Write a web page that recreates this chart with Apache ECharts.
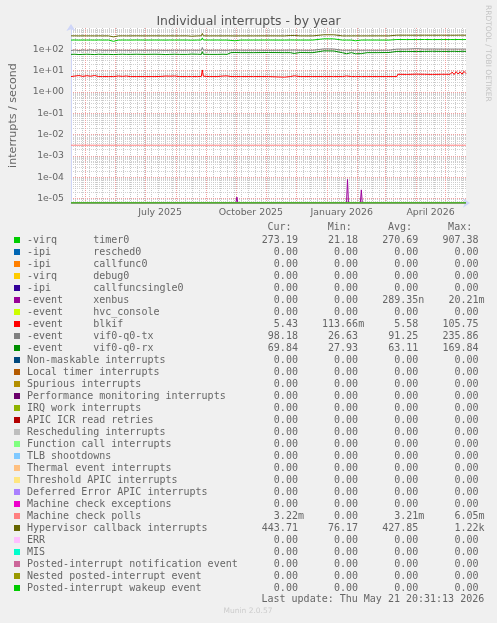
<!DOCTYPE html>
<html><head><meta charset="utf-8">
<script src="https://cdn.jsdelivr.net/npm/echarts@6/dist/echarts.min.js"></script>
<style>html,body{margin:0;padding:0;background:#F0F0F0}#c{width:497px;height:623px}</style>
</head><body><div id="c"></div>
<script>
// ---------------- data ----------------
const TITLE = 'Individual interrupts - by year';
const Y_NAME = 'interrupts / second';
const END_TIME = Date.UTC(2026, 4, 21, 20, 31, 13);
const SPAN_DAYS = 400;
const Y_MIN = 6.31e-6;
const Y_MAX = 1000;
const Y_TICKS = [1e-5, 1e-4, 1e-3, 1e-2, 1e-1, 1e0, 1e1, 1e2];
const X_LABELS = ['July 2025', 'October 2025', 'January 2026', 'April 2026'];
const X_LABEL_DATES = ['2025-07-16', '2025-10-16', '2026-01-16', '2026-04-16'];
const MONTH_STARTS = ['2025-05-01','2025-06-01','2025-07-01','2025-08-01','2025-09-01','2025-10-01','2025-11-01','2025-12-01','2026-01-01','2026-02-01','2026-03-01','2026-04-01','2026-05-01'];

const LABELS = ['-virq timer0','-ipi resched0','-ipi callfunc0','-virq debug0','-ipi callfuncsingle0','-event xenbus','-event hvc_console','-event blkif','-event vif0-q0-tx','-event vif0-q0-rx','Non-maskable interrupts','Local timer interrupts','Spurious interrupts','Performance monitoring interrupts','IRQ work interrupts','APIC ICR read retries','Rescheduling interrupts','Function call interrupts','TLB shootdowns','Thermal event interrupts','Threshold APIC interrupts','Deferred Error APIC interrupts','Machine check exceptions','Machine check polls','Hypervisor callback interrupts','ERR','MIS','Posted-interrupt notification event','Nested posted-interrupt event','Posted-interrupt wakeup event'];
const COLORS = ['#00CC00','#0066B3','#FF8000','#FFCC00','#330099','#990099','#CCFF00','#FF0000','#808080','#008F00','#00487D','#B35A00','#B38F00','#6B006B','#8FB300','#B30000','#BEBEBE','#80FF80','#80C9FF','#FFC080','#FFE680','#AA80FF','#EE00CC','#FF8080','#666600','#FFBFFF','#00FFCC','#CC6699','#999900','#00CC00'];
const CUR = ['273.19','0.00','0.00','0.00','0.00','0.00','0.00','5.43','98.18','69.84','0.00','0.00','0.00','0.00','0.00','0.00','0.00','0.00','0.00','0.00','0.00','0.00','0.00','3.22m','443.71','0.00','0.00','0.00','0.00','0.00'];
const MIN = ['21.18','0.00','0.00','0.00','0.00','0.00','0.00','113.66m','26.63','27.93','0.00','0.00','0.00','0.00','0.00','0.00','0.00','0.00','0.00','0.00','0.00','0.00','0.00','0.00','76.17','0.00','0.00','0.00','0.00','0.00'];
const AVG = ['270.69','0.00','0.00','0.00','0.00','289.35n','0.00','5.58','91.25','63.11','0.00','0.00','0.00','0.00','0.00','0.00','0.00','0.00','0.00','0.00','0.00','0.00','0.00','3.21m','427.85','0.00','0.00','0.00','0.00','0.00'];
const MAX = ['907.38','0.00','0.00','0.00','0.00','20.21m','0.00','105.75','235.86','169.84','0.00','0.00','0.00','0.00','0.00','0.00','0.00','0.00','0.00','0.00','0.00','0.00','0.00','6.05m','1.22k','0.00','0.00','0.00','0.00','0.00'];

// sample days (days after the start of the 400-day window)
const DAYS = [0,4,8,12,16,20,24,28,32, 38,43,48,52,56,60,66, 75,85,92,96,100,105,110, 118,122,128,132,133,134,140, 148,154,158,162,163,166,172, 185,200,216,222,226,232,240, 245,246,256,266,267,275,279, 284,288,294,300,310,322,323, 330,331,340,350,358,366,375, 384,386,388,390,392,394,396,398,400];
const HYPERVISOR = [428,430,426,431,428,429,427,430,428, 429,385,427,430,428,429,431, 428,430,429,427,430,428,429, 430,414,428,430,555,431,428, 429,428,430,428,398,426,429, 428,430,427,445,448,429,428, 429,478,480,479,430,428,429, 428,430,428,429,430,428,458, 460,458,459,457,460,458,459, 458,460,457,459,461,458,460,459,458];
const TIMER0 = [272,274,271,273,272,273,271,274,272, 273,238,271,273,272,272,274, 272,273,272,271,273,272,273, 272,268,272,273,345,274,272, 273,271,272,262,248,252,272, 272,273,271,274,273,272,272, 273,310,311,309,272,271,272, 271,252,272,273,272,271,288, 289,288,287,288,289,287,288, 288,289,287,288,289,288,287,288,288];
const VIF_TX = [88,93,87,94,89,95,88,93,90, 90,89,91,90,90,89,91, 90,91,90,89,90,91,90, 90,91,90,91,122,92,90, 91,90,90,92,91,93,91, 91,90,91,92,93,91,90, 91,104,105,104,91,90,91, 90,91,90,91,90,91,103, 103,104,103,108,103,104,103, 103,104,103,104,103,104,103,104,103];
const VIF_RX = [58,59,57,58,59,58,57,59,58, 58,57,58,59,58,58,59, 58,59,58,57,58,59,58, 58,60,59,58,78,59,58, 58,59,58,70,69,71,70, 70,71,70,70,64,71,70, 70,84,85,84,70,69,62, 70,62,63,70,70,71,80, 80,81,80,79,80,81,80, 80,79,81,80,79,80,81,80,80];
const BLKIF = [5.3,5.6,5.9,5.4,5.8,5.5,5.9,5.3,5.3, 5.3,5.3,5.6,5.4,5.6,5.3,5.3, 5.3,5.3,5.4,5.6,5.5,5.6,5.3, 5.3,5.3,5.3,5.4,10.8,5.5,5.3, 5.3,5.6,5.7,5.3,5.3,5.3,5.3, 5.3,5.3,5.0,5.3,5.7,5.3,5.3, 5.3,5.3,5.3,5.3,5.3,5.3,5.6, 5.3,5.3,5.3,5.3,5.3,5.3,5.3, 5.3,6.8,6.7,6.9,6.8,6.7,6.8, 6.8,8.6,6.6,9.0,7.0,8.8,6.9,9.2,7.4];
const XENBUS_DAYS = [0,167,168,169,279,280,281,293,294,295,400];
const XENBUS = [0,0,1.2e-5,0,0,8e-5,0,0,2.6e-5,0,0];
const MC_POLLS_DAYS = [0,400];
const MC_POLLS = [0.00322,0.00322];
const ZERO_DAYS = [0,400];
const ZERO = [0,0];

// ---------------- build ----------------
const DAY = 86400000;
const START = END_TIME - SPAN_DAYS * DAY;
const ts = s => Date.parse(s + 'T00:00:00Z');

const seriesSource = {
  0: [DAYS, TIMER0], 5: [XENBUS_DAYS, XENBUS], 7: [DAYS, BLKIF], 8: [DAYS, VIF_TX],
  9: [DAYS, VIF_RX], 23: [MC_POLLS_DAYS, MC_POLLS], 24: [DAYS, HYPERVISOR]
};
// rrdtool draws zero values at the bottom edge of a log graph
const clampLog = v => (v > 0 ? v : Y_MIN);

const series = LABELS.map((name, i) => {
  const src = seriesSource[i] || [ZERO_DAYS, ZERO];
  return {
    name, type: 'line', showSymbol: false, symbol: 'none', animation: false,
    xAxisIndex: 0, yAxisIndex: 0,
    color: COLORS[i],
    lineStyle: { width: 1, color: COLORS[i] },
    data: src[0].map((d, k) => [START + d * DAY, clampLog(src[1][k])])
  };
});

function fmtField(s) {
  const last = s.slice(-1);
  if (/[a-zA-Z]/.test(last)) return s.slice(0, -1).padStart(9) + last;
  return s.padStart(9) + ' ';
}
function rowText(i) {
  let lab = LABELS[i];
  if (lab[0] === '-') {
    const sp = lab.indexOf(' ');
    lab = lab.slice(0, sp).padEnd(11) + lab.slice(sp + 1);
  }
  return lab.padEnd(36) + fmtField(CUR[i]) + fmtField(MIN[i]) + fmtField(AVG[i]) + fmtField(MAX[i]);
}

// weekly minor grid (Mondays)
const weeks = [];
{
  let t = Date.UTC(2025, 3, 21); // a Monday
  while (t <= END_TIME) { if (t >= START) weeks.push(t); t += 7 * DAY; }
}
const minorY = [];
for (let e = -6; e <= 2; e++) for (let m = 2; m <= 9; m++) {
  const v = m * Math.pow(10, e);
  if (v > Y_MIN && v < Y_MAX) minorY.push(v);
}

const yLabel = v => {
  const e = Math.round(Math.log10(v));
  return '1e' + (e < 0 ? '-' : '+') + String(Math.abs(e)).padStart(2, '0');
};
const labelTimes = X_LABEL_DATES.map(ts);

const FONT = 'DejaVu Sans';
const MONO = 'DejaVu Sans Mono';
const TXT = '#666666';
const AXIS = '#CFD6F8';

const chart = echarts.init(document.getElementById('c'), null, { renderer: 'canvas' });
chart.setOption({
  backgroundColor: '#F0F0F0',
  animation: false,
  title: {
    text: TITLE, left: 'center', top: 11,
    textStyle: { fontFamily: FONT, fontSize: 12.4, fontWeight: 'normal', color: '#555555' }
  },
  grid: { left: 66, right: 31, top: 28, bottom: 420, show: true, backgroundColor: '#FFFFFF', borderWidth: 0 },
  xAxis: [{
    type: 'value', min: START, max: END_TIME, z: 1,
    axisLine: { show: true, lineStyle: { color: AXIS, width: 1 }, symbol: ['none', 'arrow'], symbolSize: [7, 7], symbolOffset: [0, 4] },
    axisTick: { show: false, customValues: MONTH_STARTS.map(ts) },
    splitLine: { show: true, lineStyle: { color: '#F0A0A0', width: 1, type: [1, 1] } },
    axisLabel: {
      customValues: labelTimes, margin: 5,
      fontFamily: FONT, fontSize: 9.4, color: TXT,
      formatter: v => { let k = 0, best = Infinity; labelTimes.forEach((t, j) => { if (Math.abs(t - v) < best) { best = Math.abs(t - v); k = j; } }); return X_LABELS[k]; }
    }
  }, {
    type: 'value', min: START, max: END_TIME, z: 0,
    axisLine: { show: false }, axisLabel: { show: false },
    axisTick: { show: false, customValues: weeks },
    splitLine: { show: true, lineStyle: { color: '#C8C8C8', width: 1, type: [1, 1] } }
  }],
  yAxis: [{
    type: 'log', logBase: 10, min: Y_MIN, max: Y_MAX, z: 1,
    name: Y_NAME, nameLocation: 'middle', nameGap: 52, nameRotate: 90,
    nameTextStyle: { fontFamily: FONT, fontSize: 11.1, color: TXT },
    axisLine: { show: true, lineStyle: { color: AXIS, width: 1 }, symbol: ['none', 'arrow'], symbolSize: [7, 7], symbolOffset: [0, 4] },
    axisTick: { show: false, customValues: Y_TICKS },
    splitLine: { show: true, lineStyle: { color: '#F0A0A0', width: 1, type: [1, 1] } },
    axisLabel: { customValues: Y_TICKS, margin: 7, fontFamily: FONT, fontSize: 9.3, color: TXT, formatter: yLabel }
  }, {
    type: 'log', logBase: 10, min: Y_MIN, max: Y_MAX, z: 0, position: 'left',
    axisLine: { show: false }, axisLabel: { show: false },
    axisTick: { show: false, customValues: minorY },
    splitLine: { show: true, lineStyle: { color: '#D0D0D0', width: 1, type: [1, 1] } }
  }],
  legend: {
    orient: 'vertical', left: 14, top: 234, padding: 0, itemGap: 0,
    itemWidth: 6, itemHeight: 6, icon: 'rect', selectedMode: false,
    itemStyle: { borderWidth: 0 },
    data: LABELS,
    textStyle: { fontFamily: MONO, fontSize: 10, color: TXT, lineHeight: 12, padding: [0, 0, 0, 2] },
    formatter: name => rowText(LABELS.indexOf(name))
  },
  graphic: [
    { type: 'text', x: 26.7 + 40 * 6.02, y: 227, style: { text: 'Cur:      Min:      Avg:      Max:', font: '10px "DejaVu Sans Mono"', fill: TXT, textVerticalAlign: 'middle' } },
    { type: 'text', x: 26.7 + 76 * 6.02, y: 599.5, style: { text: 'Last update: Thu May 21 20:31:13 2026', font: '10px "DejaVu Sans Mono"', fill: TXT, textAlign: 'right', textVerticalAlign: 'middle' } },
    { type: 'text', x: 248, y: 611, style: { text: 'Munin 2.0.57', font: '7.5px "DejaVu Sans"', fill: '#CCCCCC', textAlign: 'center', textVerticalAlign: 'middle' } },
    { type: 'text', x: 488, y: 5, rotation: -Math.PI / 2, style: { text: 'RRDTOOL / TOBI OETIKER', font: '7.5px "DejaVu Sans"', fill: '#C4C4C4', textAlign: 'left', textVerticalAlign: 'middle' } }
  ],
  series
});
</script></body></html>
